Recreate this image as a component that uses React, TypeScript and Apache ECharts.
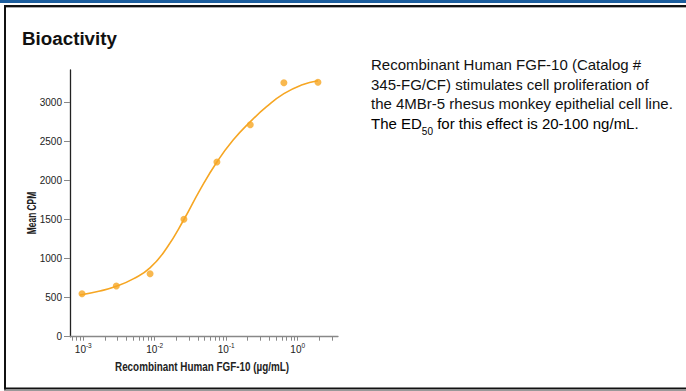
import React, { useEffect, useRef } from "react";
import * as echarts from "echarts";

// Measured points (concentration in µg/mL, Mean CPM)
const concentrations = [0.00096, 0.0029, 0.0086, 0.0256, 0.0741, 0.217, 0.641, 1.92];
const meanCpm = [550, 649, 806, 1502, 2236, 2713, 3250, 3256];

// Fitted curve
const curveX = [0.0009, 0.00171, 0.0029, 0.005, 0.00857, 0.0147, 0.0256, 0.0428, 0.0741, 0.125, 0.217, 0.367, 0.641, 1.13, 1.92];
const curveY = [534, 585, 645, 740, 880, 1135, 1500, 1877, 2236, 2517, 2751, 2943, 3110, 3221, 3276];

// Axis ticks
const yTicks = [0, 500, 1000, 1500, 2000, 2500, 3000];
const xMajorTicks = [0.001, 0.01, 0.1, 1];
const xAllTicks = [
  0.0007, 0.0008, 0.0009,
  0.001, 0.002, 0.003, 0.004, 0.005, 0.006, 0.007, 0.008, 0.009,
  0.01, 0.02, 0.03, 0.04, 0.05, 0.06, 0.07, 0.08, 0.09,
  0.1, 0.2, 0.3, 0.4, 0.5, 0.6, 0.7, 0.8, 0.9,
  1, 2, 3,
];

const titleText = "Bioactivity";
const descLines = [
  "Recombinant Human FGF-10 (Catalog #",
  "345-FG/CF) stimulates cell proliferation of",
  "the 4MBr-5 rhesus monkey epithelial cell line.",
];
const descLast = ["The ED", "50", " for this effect is 20-100 ng/mL."];
const xAxisName = "Recombinant Human FGF-10 (\u00b5g/mL)";
const yAxisName = "Mean CPM";

const ORANGE = "#F6A623";
const ARIAL = "'Liberation Sans', Arial, sans-serif";

export default function App() {
  const ref = useRef<HTMLDivElement>(null);
  useEffect(() => {
    if (!ref.current) return;
    const chart = echarts.init(ref.current, undefined, { renderer: "svg" });
    const option: any = {
      animation: false,
      backgroundColor: "#ffffff",
      grid: { left: 70, right: 348, top: 70, bottom: 54.3, containLabel: false },
      xAxis: {
        type: "log",
        logBase: 10,
        min: 0.000652,
        max: 3.664,
        axisLine: { show: true, lineStyle: { color: "#888", width: 1.3 } },
        axisTick: { show: true, length: 4, lineStyle: { color: "#888", width: 1 }, customValues: xAllTicks },
        minorTick: { show: false },
        splitLine: { show: false },
        axisLabel: {
          customValues: xMajorTicks,
          margin: 5,
          formatter: (v: number) => `{b|10}{s|${Math.round(Math.log10(v))}}`,
          rich: {
            b: { fontFamily: ARIAL, fontSize: 10, color: "#222", lineHeight: 13, verticalAlign: "bottom" },
            s: { fontFamily: ARIAL, fontSize: 6.5, color: "#222", lineHeight: 8, verticalAlign: "top" },
          },
        },
      },
      yAxis: {
        type: "value",
        min: 0,
        max: 3413,
        axisLine: { show: true, lineStyle: { color: "#222", width: 1.3 } },
        axisTick: { show: true, length: 6, lineStyle: { color: "#888", width: 1 }, customValues: yTicks },
        splitLine: { show: false },
        axisLabel: {
          customValues: yTicks,
          margin: 8,
          formatter: (v: number) => String(v),
          fontFamily: ARIAL,
          fontSize: 10,
          color: "#222",
        },
      },
      series: [
        {
          type: "line",
          data: curveX.map((x, i) => [x, curveY[i]]),
          smooth: 0.5,
          showSymbol: false,
          symbol: "none",
          lineStyle: { color: ORANGE, width: 1.6 },
          silent: true,
          z: 2,
        },
        {
          type: "scatter",
          data: concentrations.map((x, i) => [x, meanCpm[i]]),
          symbol: "circle",
          symbolSize: 7,
          itemStyle: { color: ORANGE },
          silent: true,
          z: 3,
        },
      ],
      graphic: [
        { type: "rect", shape: { x: 0, y: 0, width: 686, height: 3 }, style: { fill: "#1C5E9E" }, silent: true },
        { type: "rect", shape: { x: 4, y: 5, width: 682, height: 2 }, style: { fill: "#111" }, silent: true },
        { type: "rect", shape: { x: 4, y: 7, width: 682, height: 1 }, style: { fill: "#aaa" }, silent: true },
        { type: "rect", shape: { x: 4, y: 5, width: 2, height: 385 }, style: { fill: "#111" }, silent: true },
        { type: "rect", shape: { x: 4, y: 387.5, width: 682, height: 2 }, style: { fill: "#111" }, silent: true },
        { type: "rect", shape: { x: 4, y: 389.5, width: 682, height: 1.5 }, style: { fill: "#999" }, silent: true },
        {
          type: "text",
          x: 22,
          y: 38,
          style: { text: titleText, font: `bold 18.8px ${ARIAL}`, fill: "#111", textAlign: "left", textVerticalAlign: "middle" },
          silent: true,
        },
        ...descLines.map((t, i) => ({
          type: "text",
          x: 371,
          y: 64.6 + i * 19.6,
          style: { text: t, font: `15px ${ARIAL}`, fill: "#111", textAlign: "left", textVerticalAlign: "middle" },
          silent: true,
        })),
        {
          type: "text",
          x: 371,
          y: 123.6,
          style: {
            text: `{n|${descLast[0]}}{sub|${descLast[1]}}{n|${descLast[2]}}`,
            textAlign: "left",
            textVerticalAlign: "middle",
            rich: {
              n: { fontFamily: ARIAL, fontSize: 15, color: "#111", lineHeight: 18, verticalAlign: "middle" },
              sub: { fontFamily: ARIAL, fontSize: 10, color: "#111", lineHeight: 4, height: 3, verticalAlign: "bottom" },
            },
          },
          silent: true,
        },
        {
          type: "text",
          x: 31,
          y: 213,
          rotation: Math.PI / 2,
          scaleX: 0.62,
          style: { text: yAxisName, font: `bold 13.5px ${ARIAL}`, fill: "#222", textAlign: "center", textVerticalAlign: "middle" },
          silent: true,
        },
        {
          type: "text",
          x: 202,
          y: 366.5,
          scaleX: 0.76,
          style: { text: xAxisName, font: `bold 13px ${ARIAL}`, fill: "#222", textAlign: "center", textVerticalAlign: "middle" },
          silent: true,
        },
      ],
    };
    chart.setOption(option);
    return () => chart.dispose();
  }, []);
  return <div ref={ref} style={{ position: "fixed", left: 0, top: 0, width: 686, height: 391 }} />;
}
